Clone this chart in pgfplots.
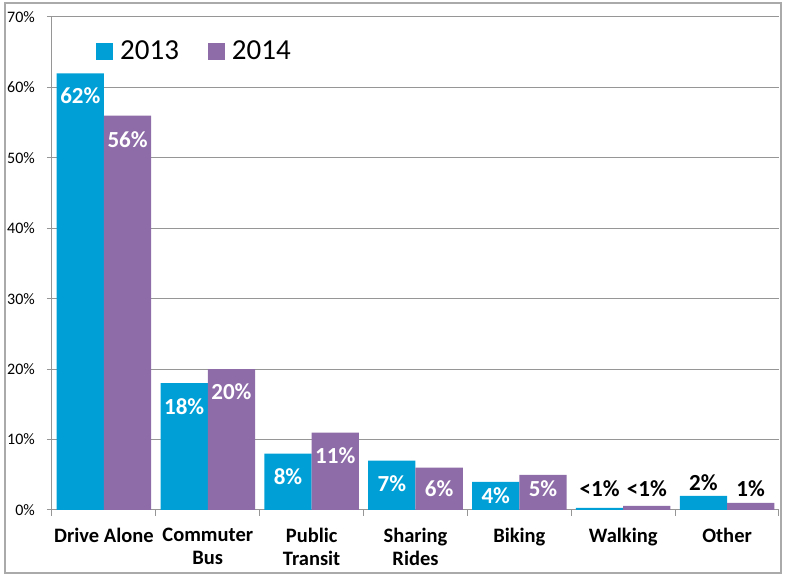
\documentclass[border=0pt]{standalone}
\usepackage{fontspec}
\setmainfont{Carlito}
\usepackage{pgfplots}
\usepackage{pgfplotstable}
\pgfplotsset{compat=1.18}
\definecolor{cblue}{RGB}{0,160,214}
\definecolor{cpurple}{RGB}{142,108,168}
\definecolor{gridgray}{RGB}{150,150,150}
\definecolor{framegray}{RGB}{170,170,170}

% x: bar centre, y: value, ly: label baseline, lab: label text
\pgfplotstableread{
x y ly lab
-0.2275 62 57.65 62\%
0.7725 18 13.63 18\%
1.7725 8 3.69 8\%
2.7725 7 2.56 7\%
3.7725 4 0.99 4\%
4.7725 0.3 1.85 \textcolor{black}{<1\%}
5.7725 2 2.70 \textcolor{black}{2\%}
}\tblue
\pgfplotstableread{
x y ly lab
0.2275 56 51.54 56\%
1.2275 20 15.76 20\%
2.2275 11 6.67 11\%
3.2275 6 1.85 6\%
4.2275 5 1.85 5\%
5.2275 0.6 1.85 \textcolor{black}{<1\%}
6.2275 1 1.85 \textcolor{black}{1\%}
}\tpurple

\begin{document}
\begin{tikzpicture}
\begin{axis}[
  at={(0,0)}, anchor=south west,
  scale only axis, width=727pt, height=493pt,
  xmin=-0.5, xmax=6.5, ymin=0, ymax=70,
  clip=false,
  axis x line*=bottom, axis y line*=left,
  axis line style={gridgray, line width=1pt},
  xtick={0,...,6},
  xticklabels={Drive Alone,{Commuter\\Bus},{Public\\Transit},{Sharing\\Rides},Biking,Walking,Other},
  major x tick style={draw=none},
  minor xtick={-0.5,0.5,...,6.5},
  minor tick length=6pt,
  minor tick style={gridgray, line width=1pt},
  tick align=outside,
  major tick length=5pt,
  ytick={0,10,...,70},
  yticklabels={0\%,10\%,20\%,30\%,40\%,50\%,60\%,70\%},
  y tick style={gridgray, line width=1pt},
  ymajorgrids,
  grid style={gridgray, line width=1pt},
  xticklabel style={align=center, anchor=north, inner sep=0pt,
    font=\bfseries\fontsize{20.5}{23}\selectfont, yshift=-13pt},
  yticklabel style={anchor=east, inner sep=0pt,
    font=\fontsize{16}{16}\selectfont, xshift=-12pt},
  legend image code/.code={\fill[#1] (0pt,-8.5pt) rectangle (17pt,8.5pt);},
  legend columns=2,
  legend style={at={(0.0605,0.931)}, anchor=west, draw=none, fill=none,
    font=\fontsize{29}{29}\selectfont, inner sep=0pt,
    nodes={inner sep=0pt},
    /tikz/every odd column/.append style={column sep=7pt},
    /tikz/every even column/.append style={column sep=29pt}},
]
\addplot[ybar, bar width=0.455, bar shift=0pt, fill=cblue, draw=none]
  table[x=x, y=y]{\tblue};
\addlegendentry{2013}
\addplot[ybar, bar width=0.455, bar shift=0pt, fill=cpurple, draw=none]
  table[x=x, y=y]{\tpurple};
\addlegendentry{2014}

\addplot[draw=none, forget plot, nodes near coords, point meta=explicit symbolic,
  nodes near coords style={anchor=base, inner sep=0pt, text=white,
    font=\bfseries\fontsize{23}{23}\selectfont}]
  table[x=x, y=ly, meta=lab]{\tblue};
\addplot[draw=none, forget plot, nodes near coords, point meta=explicit symbolic,
  nodes near coords style={anchor=base, inner sep=0pt, text=white,
    font=\bfseries\fontsize{23}{23}\selectfont}]
  table[x=x, y=ly, meta=lab]{\tpurple};
\end{axis}
\draw[framegray, line width=1.2pt] (-47pt,-63pt) rectangle (729pt,507pt);
\path (-52pt,-71pt) rectangle (736pt,510pt);
\end{tikzpicture}
\end{document}
